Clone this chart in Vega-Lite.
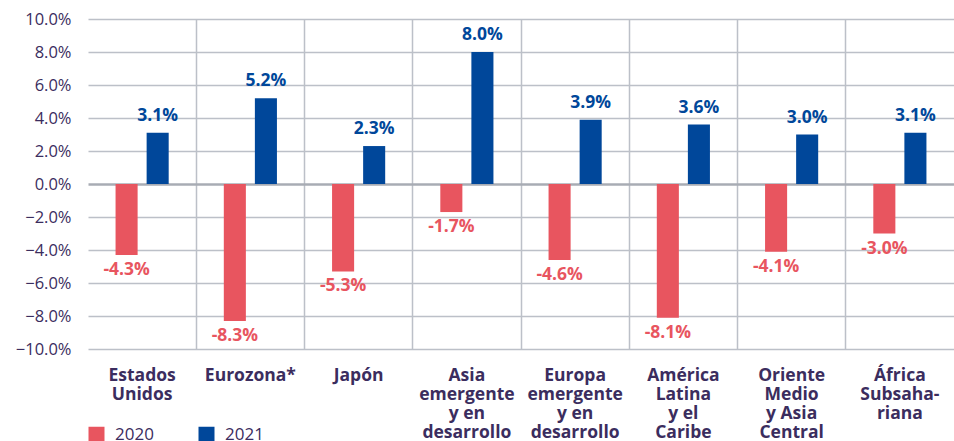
{
  "$schema": "https://vega.github.io/schema/vega-lite/v6.json",
  "width": 866,
  "height": 330,
  "autosize": {"type": "none"},
  "padding": {"left": 88, "top": 19, "right": 0, "bottom": 92},
  "background": "white",
  "config": {
    "font": "Open Sans",
    "view": {"stroke": null},
    "axis": {"domain": false, "ticks": false}
  },
  "data": {
    "values": [
      {"region": "Estados Unidos", "year": "2020", "value": -4.3},
      {"region": "Estados Unidos", "year": "2021", "value": 3.1},
      {"region": "Eurozona*", "year": "2020", "value": -8.3},
      {"region": "Eurozona*", "year": "2021", "value": 5.2},
      {"region": "Japón", "year": "2020", "value": -5.3},
      {"region": "Japón", "year": "2021", "value": 2.3},
      {"region": "Asia emergente y en desarrollo", "year": "2020", "value": -1.7},
      {"region": "Asia emergente y en desarrollo", "year": "2021", "value": 8.0},
      {"region": "Europa emergente y en desarrollo", "year": "2020", "value": -4.6},
      {"region": "Europa emergente y en desarrollo", "year": "2021", "value": 3.9},
      {"region": "América Latina y el Caribe", "year": "2020", "value": -8.1},
      {"region": "América Latina y el Caribe", "year": "2021", "value": 3.6},
      {"region": "Oriente Medio y Asia Central", "year": "2020", "value": -4.1},
      {"region": "Oriente Medio y Asia Central", "year": "2021", "value": 3.0},
      {"region": "África Subsahariana", "year": "2020", "value": -3.0},
      {"region": "África Subsahariana", "year": "2021", "value": 3.1}
    ]
  },
  "encoding": {
    "x": {
      "field": "region",
      "type": "nominal",
      "sort": null,
      "scale": {"paddingInner": 0, "paddingOuter": 0},
      "axis": {
        "title": null,
        "orient": "bottom",
        "labelAngle": 0,
        "labelFont": "Open Sans",
        "labelFontSize": 17.5,
        "labelFontWeight": "bold",
        "labelColor": "#3B2D5E",
        "labelPadding": 17,
        "labelLineHeight": 19,
        "labelBaseline": "top",
        "labelExpr": "({'Estados Unidos':['Estados','Unidos'],'Eurozona*':['Eurozona*'],'Japón':['Japón'],'Asia emergente y en desarrollo':['Asia','emergente','y en','desarrollo'],'Europa emergente y en desarrollo':['Europa','emergente','y en','desarrollo'],'América Latina y el Caribe':['América','Latina','y el','Caribe'],'Oriente Medio y Asia Central':['Oriente','Medio','y Asia','Central'],'África Subsahariana':['África','Subsaha-','riana']})[datum.label]",
        "grid": true,
        "bandPosition": 0,
        "gridColor": "#BCC0C8",
        "gridWidth": 1.5,
        "gridOpacity": {"condition": {"test": "datum.index == 0", "value": 0}, "value": 1}
      }
    },
    "xOffset": {
      "field": "year",
      "type": "nominal",
      "scale": {"paddingInner": 0.29, "paddingOuter": 0.887}
    },
    "y": {
      "field": "value",
      "type": "quantitative",
      "scale": {"domain": [-10, 10], "nice": false},
      "axis": {
        "title": null,
        "values": [-10, -8, -6, -4, -2, 0, 2, 4, 6, 8, 10],
        "labelExpr": "format(datum.value, '.1f') + '%'",
        "labelFont": "Open Sans",
        "labelFontSize": 16.5,
        "labelColor": "#3B2D5E",
        "labelPadding": 17,
        "grid": true,
        "gridColor": {"condition": {"test": "datum.value == 0", "value": "#A8ACB4"}, "value": "#BCC0C8"},
        "gridWidth": {"condition": {"test": "datum.value == 0", "value": 2.5}, "value": 1.5}
      }
    }
  },
  "layer": [
    {
      "mark": {"type": "bar"},
      "encoding": {
        "color": {
          "field": "year",
          "type": "nominal",
          "scale": {"domain": ["2020", "2021"], "range": ["#E8555F", "#00479A"]},
          "legend": {
            "title": null,
            "orient": "none",
            "direction": "horizontal",
            "legendX": 0,
            "legendY": 407,
            "symbolType": "square",
            "symbolSize": 256,
            "symbolStrokeWidth": 0,
            "labelFont": "Open Sans",
            "labelFontSize": 17,
            "labelColor": "#3B2D5E",
            "labelOffset": 10,
            "columnPadding": 44
          }
        }
      }
    },
    {
      "transform": [
        {"filter": "datum.year == '2021'"},
        {"calculate": "replace(format(datum.value, '.1f'), '\u2212', '-') + '%'", "as": "label"}
      ],
      "mark": {"type": "text", "baseline": "bottom", "dy": -8, "fontSize": 17.5, "fontWeight": "bold", "font": "Open Sans", "color": "#00479A"},
      "encoding": {
        "text": {"field": "label", "type": "nominal"}
      }
    },
    {
      "transform": [
        {"filter": "datum.year == '2020'"},
        {"calculate": "replace(format(datum.value, '.1f'), '\u2212', '-') + '%'", "as": "label"}
      ],
      "mark": {"type": "text", "baseline": "top", "dy": 6, "fontSize": 17.5, "fontWeight": "bold", "font": "Open Sans", "color": "#E8555F"},
      "encoding": {
        "text": {"field": "label", "type": "nominal"}
      }
    }
  ]
}
